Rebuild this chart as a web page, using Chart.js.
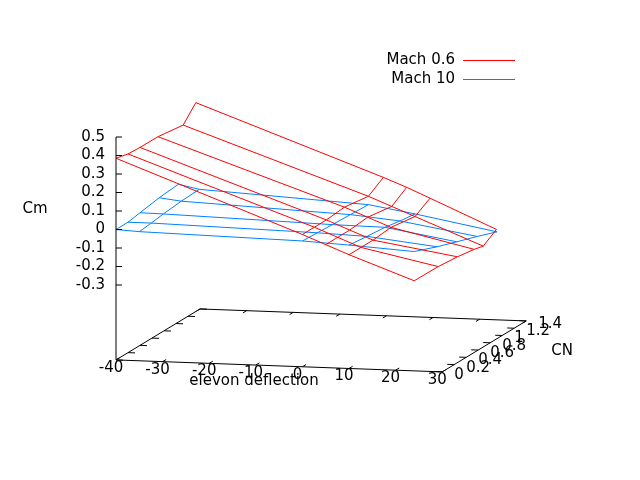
<!DOCTYPE html>
<html><head><meta charset="utf-8">
<script src="https://cdn.jsdelivr.net/npm/chart.js@4"></script>
<style>body{margin:0;background:#fff}#w{width:640px;height:480px}</style>
</head><body><div id="w"><canvas id="c" width="640" height="480"></canvas></div>
<script>
// ---- data ----
const deflectionTicks = [-40,-30,-20,-10,0,10,20,30];
const cnTicks = [0,0.2,0.4,0.6,0.8,1,1.2,1.4];
const cmTicks = [0.5,0.4,0.3,0.2,0.1,0,-0.1,-0.2,-0.3];
// Mach 0.6 (red) grid: columns of elevon deflection, each with CN and Cm per row
const redDefl = [-40, 0, 5, 10, 24];
const redCN = [
  [0,0.2,0.4,0.7,1.12,1.33],
  [0,0.2,0.4,0.7,1.1,1.35],
  [0,0.2,0.4,0.7,1.1,1.35],
  [0,0.2,0.4,0.7,1.1,1.35],
  [0,0.4,0.72,1.0,1.15,1.37]
];
const redCm = [
  [0.385,0.369,0.365,0.364,0.344,0.424],
  [0.01,0.01,0.01,0.02,0.0,0.053],
  [-0.04,-0.04,-0.04,-0.03,-0.05,0.004],
  [-0.09,-0.09,-0.09,-0.08,-0.10,-0.05],
  [-0.218,-0.22,-0.23,-0.245,-0.257,-0.21]
];
// Mach 10 (blue)
const blueDefl = [-40, -35, 0, 10, 24];
const blueCN = [
  [0,0.2,0.4,0.72,1.04],
  [0,0.2,0.4,0.7,1.0],
  [0,0.25,0.5,0.8,1.1],
  [0,0.3,0.6,0.85,1.1],
  [0,0.38,0.71,1.05,1.38]
];
const blueCm = [
  [0,0,0.012,0.03,0.04],
  [-0.007,0,0.01,0.02,0.025],
  [-0.025,-0.03,-0.035,-0.04,-0.045],
  [-0.038,-0.05,-0.06,-0.075,-0.086],
  [-0.06,-0.109,-0.147,-0.185,-0.225]
];
const seriesNames = ["Mach 0.6","Mach 10"];
const seriesColors = ["#ff0000","#0080ff"];

// ---- projection (gnuplot-like view) ----
const ZBASE = -0.705;
function P(x,y,z){return {x:116+4.66*(x+40)+60*y, y:229.5+0.171*(x+40)-36.4*y-185*z};}

function surfaceSets(defl,cn,cm,color){
  const sets=[];
  const mk=pts=>({data:pts,showLine:true,borderColor:color,borderWidth:1,pointRadius:0,fill:false,tension:0});
  for(let i=0;i<defl.length;i++){
    sets.push(mk(cn[i].map((v,j)=>P(defl[i],v,cm[i][j]))));
  }
  const nr=cn[0].length;
  for(let j=0;j<nr;j++){
    sets.push(mk(defl.map((d,i)=>P(d,cn[i][j],cm[i][j]))));
  }
  return sets;
}
const K='#000';
function seg(a,b){return {data:[a,b],showLine:true,borderColor:K,borderWidth:1,pointRadius:0};}
const axisSets=[
  seg(P(-40,0,ZBASE),P(30,0,ZBASE)),
  seg(P(30,0,ZBASE),P(30,1.4,ZBASE)),
  seg(P(30,1.4,ZBASE),P(-40,1.4,ZBASE)),
  seg(P(-40,1.4,ZBASE),P(-40,0,ZBASE)),
  seg(P(-40,0,ZBASE),P(-40,0,0.5))
];
cmTicks.forEach(t=>{const a=P(-40,0,t);axisSets.push(seg(a,{x:a.x+6,y:a.y}));});
deflectionTicks.forEach(t=>{
  const a=P(t,0,ZBASE),b=P(t,0.06,ZBASE);axisSets.push(seg(a,b));
  const c=P(t,1.4,ZBASE),d=P(t,1.34,ZBASE);axisSets.push(seg(c,d));
});
cnTicks.forEach(t=>{
  const a=P(30,t,ZBASE),b=P(28.5,t,ZBASE);axisSets.push(seg(a,b));
  const c=P(-40,t,ZBASE),d=P(-38.5,t,ZBASE);axisSets.push(seg(c,d));
});

const labels={id:'labels',afterDatasetsDraw(ch){
  const g=ch.ctx;g.save();g.fillStyle='#000';g.font='15px "DejaVu Sans", sans-serif';
  g.textBaseline='middle';
  g.textAlign='right';
  cmTicks.forEach(t=>{const a=P(-40,0,t);g.fillText(String(t),105,a.y);});
  g.textAlign='center';
  deflectionTicks.forEach(t=>{const a=P(t,0,ZBASE);g.fillText(String(t),a.x-5,a.y+8);});
  g.textAlign='left';
  cnTicks.forEach(t=>{const a=P(30,t,ZBASE);g.fillText(String(t),a.x+12,a.y+3);});
  g.textAlign='center';
  g.fillText('elevon deflection',254,381);
  g.fillText('CN',562,351);
  g.fillText('Cm',35,209);
  g.textAlign='right';
  seriesNames.forEach((n,i)=>{
    const y=60+19*i;g.fillStyle='#000';g.fillText(n,455,y);
    g.strokeStyle=seriesColors[i];g.lineWidth=1;g.beginPath();g.moveTo(463,y+0.5);g.lineTo(515,y+0.5);g.stroke();
  });
  g.restore();
}};

new Chart(document.getElementById('c'),{
  type:'scatter',
  data:{datasets:[...axisSets,...surfaceSets(redDefl,redCN,redCm,seriesColors[0]),...surfaceSets(blueDefl,blueCN,blueCm,seriesColors[1])]},
  options:{responsive:false,animation:false,layout:{padding:0},
    plugins:{legend:{display:false},tooltip:{enabled:false}},
    scales:{x:{type:'linear',min:0,max:640,display:false},y:{type:'linear',min:0,max:480,reverse:true,display:false}}},
  plugins:[labels]
});
</script></body></html>
